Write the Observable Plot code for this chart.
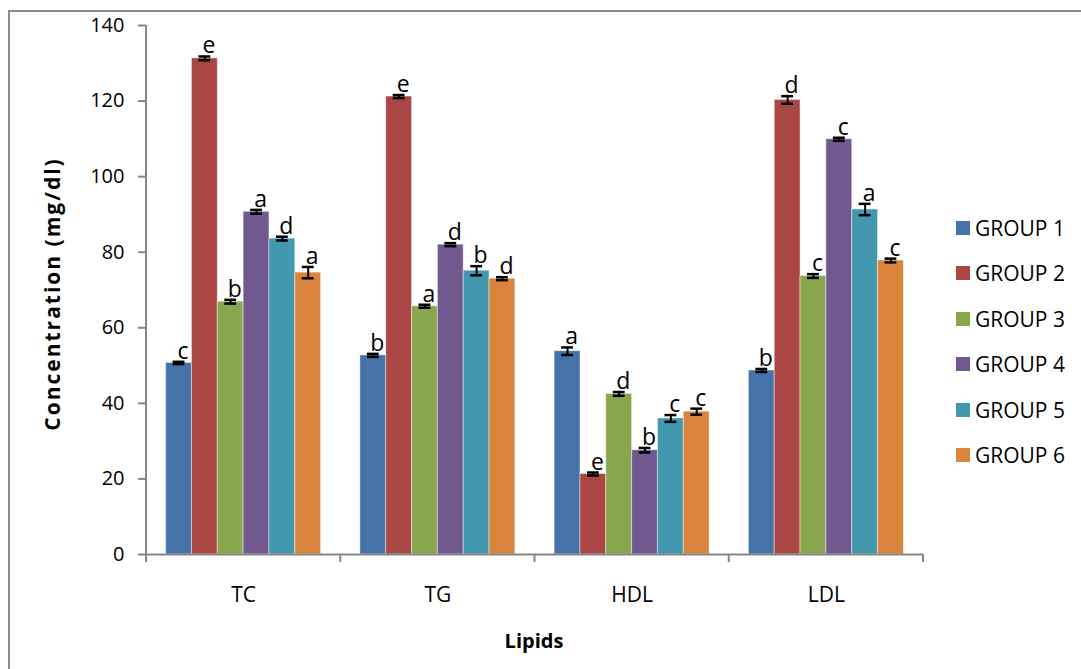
<!DOCTYPE html>
<html><head><meta charset="utf-8">
<script src="https://cdn.jsdelivr.net/npm/d3@7"></script>
<script src="https://cdn.jsdelivr.net/npm/@observablehq/plot@0.6"></script>
<style>
body{margin:0;background:#fff;}
#wrap{position:relative;width:1081px;height:669px;overflow:hidden;font-family:"Open Sans",sans-serif;color:#000;}
#frame{position:absolute;left:8px;top:10px;width:1200px;height:800px;border-left:2px solid #8c8c8c;border-top:2px solid #8c8c8c;box-sizing:border-box;}
#chart{position:absolute;left:0;top:0;}
.leg{position:absolute;left:956px;height:28px;display:flex;align-items:center;white-space:nowrap;}
.sw{width:14px;height:14px;margin-right:5px;}
.lt{font-size:21px;line-height:28px;}
#xt{position:absolute;left:434px;width:200px;top:627px;text-align:center;font-weight:bold;font-size:20px;line-height:28px;}
#yt{position:absolute;left:52px;top:294px;transform:translate(-50%,-50%) rotate(-90deg);font-weight:bold;font-size:21px;letter-spacing:2px;white-space:nowrap;line-height:28px;}
</style></head><body>
<div id="wrap"><div id="frame"></div><div id="chart"></div><div id="xt">Lipids</div><div id="yt">Concentration (mg/dl)</div></div>
<script>
const lipids = ["TC", "TG", "HDL", "LDL"];
const groups = ["GROUP 1", "GROUP 2", "GROUP 3", "GROUP 4", "GROUP 5", "GROUP 6"];
const colors = ["#4572a7", "#aa4643", "#89a54e", "#71588f", "#4198af", "#db843d"];
const yTicks = [0, 20, 40, 60, 80, 100, 120, 140];

const meanTC  = [50.7, 131.3, 66.9, 90.7, 83.6, 74.6];
const errTC   = [0.3, 0.5, 0.5, 0.5, 0.5, 1.5];
const letTC   = ["c", "e", "b", "a", "d", "a"];
const meanTG  = [52.7, 121.2, 65.7, 82.0, 75.1, 73.0];
const errTG   = [0.4, 0.4, 0.4, 0.4, 1.2, 0.4];
const letTG   = ["b", "e", "a", "d", "b", "d"];
const meanHDL = [53.8, 21.3, 42.5, 27.6, 36.0, 37.8];
const errHDL  = [1.0, 0.4, 0.5, 0.6, 0.9, 0.8];
const letHDL  = ["a", "e", "d", "b", "c", "c"];
const meanLDL = [48.7, 120.3, 73.7, 109.9, 91.3, 77.8];
const errLDL  = [0.4, 1.0, 0.5, 0.4, 1.5, 0.5];
const letLDL  = ["b", "d", "c", "c", "a", "c"];

const series = [[meanTC, errTC, letTC], [meanTG, errTG, letTG], [meanHDL, errHDL, letHDL], [meanLDL, errLDL, letLDL]];
const rows = [];
lipids.forEach((lipid, i) => {
  const [m, e, l] = series[i];
  groups.forEach((group, j) => rows.push({lipid, group, mean: m[j], err: e[j], letter: l[j]}));
});

const axisGray = "#868686";
const plot = Plot.plot({
  width: 1081, height: 669,
  marginLeft: 146, marginRight: 158, marginTop: 25, marginBottom: 115,
  style: {fontFamily: '"Open Sans", sans-serif', color: "#000", background: "transparent", overflow: "visible"},
  fx: {domain: lipids, padding: 0, label: null, round: false},
  x: {domain: groups, paddingInner: 0, paddingOuter: 0.76, axis: null, round: false},
  y: {domain: [0, 140], label: null},
  color: {domain: groups, range: colors},
  marks: [
    Plot.barY(rows, {fx: "lipid", x: "group", y: "mean", fill: "group", stroke: "#fff", strokeOpacity: 0.45, strokeWidth: 1}),
    Plot.ruleX(rows, {fx: "lipid", x: "group", y1: d => d.mean - d.err, y2: d => d.mean + d.err, stroke: "#000", strokeWidth: 2}),
    Plot.tickY(rows, {fx: "lipid", x: "group", y: d => d.mean - d.err, stroke: "#000", strokeWidth: 2.5, insetLeft: 7, insetRight: 7}),
    Plot.tickY(rows, {fx: "lipid", x: "group", y: d => d.mean + d.err, stroke: "#000", strokeWidth: 2.5, insetLeft: 7, insetRight: 7}),
    Plot.text(rows, {fx: "lipid", x: "group", y: d => d.mean + d.err, text: "letter", dx: 4, dy: -3, lineAnchor: "bottom", fontSize: 23, fill: "#000"}),
    Plot.ruleY([0], {stroke: axisGray, strokeWidth: 2}),
    Plot.axisY({ticks: yTicks, tickSize: 8, tickPadding: 14, fontSize: 20, stroke: axisGray, strokeWidth: 2, fill: "#000", label: null}),
    Plot.axisFx({anchor: "bottom", tickSize: 0, tickPadding: 33, fontSize: 21, fill: "#000", label: null})
  ]
});
document.getElementById("chart").appendChild(plot);

const svg = d3.select(plot);
const fxs = plot.scale("fx"), ys = plot.scale("y");
const y0 = ys.apply(0), yTop = ys.apply(140);
const bounds = lipids.map(d => fxs.apply(d));
bounds.push(fxs.apply(lipids[lipids.length - 1]) + fxs.bandwidth);
svg.append("line").attr("x1", bounds[0]).attr("x2", bounds[0]).attr("y1", yTop).attr("y2", y0)
  .attr("stroke", axisGray).attr("stroke-width", 2);
svg.append("g").selectAll("line").data(bounds).join("line")
  .attr("x1", d => d).attr("x2", d => d).attr("y1", y0).attr("y2", y0 + 8)
  .attr("stroke", axisGray).attr("stroke-width", 2);

const wrap = document.getElementById("wrap");
groups.forEach((g, i) => {
  const row = document.createElement("div");
  row.className = "leg";
  row.style.top = (214 + 45.4 * i) + "px";
  row.innerHTML = `<div class="sw" style="background:${colors[i]}"></div><div class="lt">${g}</div>`;
  wrap.appendChild(row);
});
</script>
</body></html>
